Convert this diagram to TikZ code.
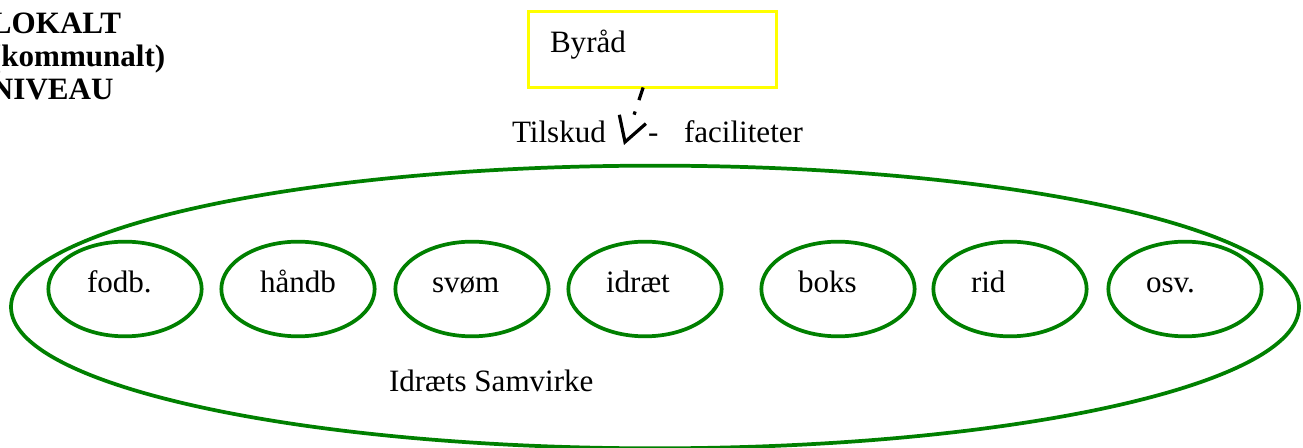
\documentclass[tikz,border=0pt]{standalone}
\usepackage{fontspec}
\setmainfont{Liberation Serif}
\usetikzlibrary{shapes.geometric,arrows.meta}
\definecolor{sgreen}{RGB}{0,128,0}
\definecolor{syellow}{RGB}{255,255,0}
\begin{document}
\begin{tikzpicture}[x=0.75pt,y=-0.75pt,
  every node/.style={inner sep=0pt, outer sep=0pt, font=\fontsize{23.3}{28}\selectfont},
  txt/.style={anchor=base west},
  club/.style={draw=sgreen, line width=2.8pt, ellipse, minimum width=115pt, minimum height=71pt},
  bigell/.style={draw=sgreen, line width=2.8pt, ellipse, minimum width=966pt, minimum height=212pt},
  ybox/.style={draw=syellow, line width=2.5pt, rectangle, minimum width=186pt, minimum height=57pt},
  flow/.style={line width=2.4pt, dash pattern=on 10pt off 9pt on 2.5pt off 20pt,
    -{Straight Barb[length=18pt,width=21pt,line width=2.4pt]}}
]
\clip (0,0) rectangle (1303,448);
\fill[white] (0,0) rectangle (1303,448);
% heading
\node[txt, align=left, font=\bfseries\fontsize{23.3}{25.1}\selectfont] (head) at (-9,100) {LOKALT\\(kommunalt)\\NIVEAU};
% Byraad
\node[ybox] (byrad) at (652.5,49.5) {};
\node[txt] (byradtxt) at (550,53) {Byråd};
\coordinate (tip) at (624,145);
\draw[flow] ([xshift=-7pt]byrad.south) -- (tip);
\node[txt] (tilskud) at (512,143) {Tilskud};
\node[txt] (dash) at (648,143) {-};
\node[txt] (facil) at (684,143) {faciliteter};
% big ellipse
\node[bigell] (samvirke) at (655,307) {};
\node[txt] (samvtxt) at (389,392) {Idræts Samvirke};
% clubs
\node[club] (c1) at (125,289) {};
\node[club] (c2) at (298,289) {};
\node[club] (c3) at (472,289) {};
\node[club] (c4) at (645,289) {};
\node[club] (c5) at (838,289) {};
\node[club] (c6) at (1010,289) {};
\node[club] (c7) at (1185,289) {};
\node[txt] (t1) at (87,293) {fodb.};
\node[txt] (t2) at (260,293) {håndb};
\node[txt] (t3) at (432,293) {svøm};
\node[txt] (t4) at (606,293) {idræt};
\node[txt] (t5) at (798,293) {boks};
\node[txt] (t6) at (971,293) {rid};
\node[txt] (t7) at (1146,293) {osv.};
\end{tikzpicture}
\end{document}
